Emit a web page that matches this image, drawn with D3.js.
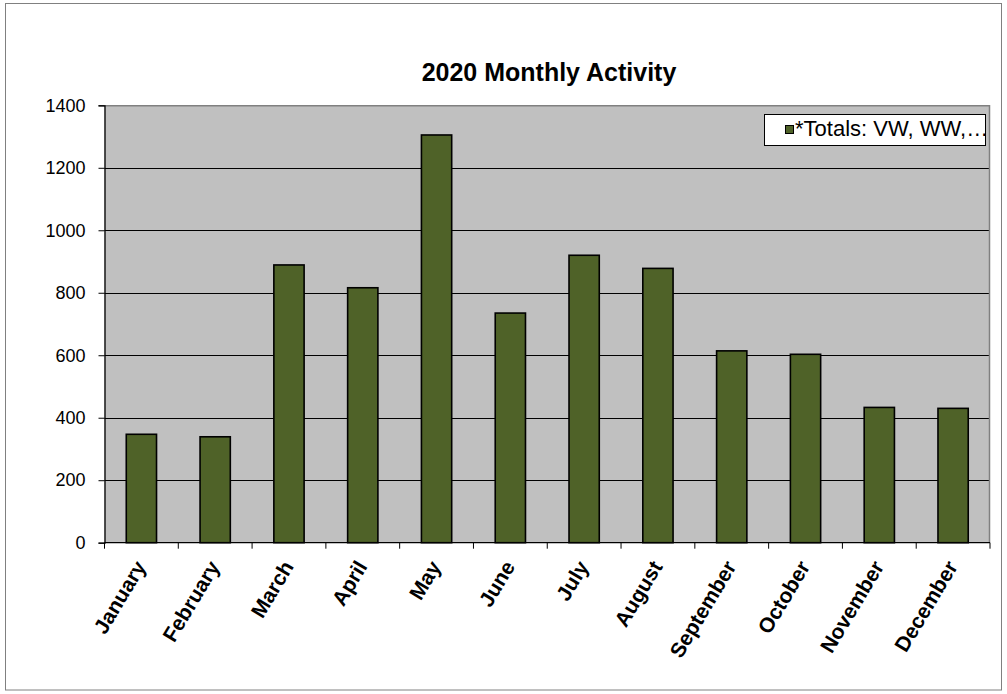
<!DOCTYPE html>
<html>
<head>
<meta charset="utf-8">
<script src="https://cdn.jsdelivr.net/npm/d3@7/dist/d3.min.js"></script>
<style>
  html, body { margin: 0; padding: 0; background: #fff; }
  svg { display: block; font-family: "Liberation Sans", Arial, sans-serif; }
</style>
</head>
<body>
<svg id="chart" width="1007" height="694"></svg>
<script>
// 2020 monthly activity totals
const months = ["January", "February", "March", "April", "May", "June",
                "July", "August", "September", "October", "November", "December"];
const totals = [347, 339, 889, 816, 1305, 735, 920, 878, 614, 603, 433, 430];
const yTicks = [0, 200, 400, 600, 800, 1000, 1200, 1400];
const seriesName = "*Totals: VW, WW,\u2026";
const chartTitle = "2020 Monthly Activity";

const svg = d3.select("#chart");
const plot = { left: 104.5, right: 990, top: 105.3, bottom: 542.7 };

// chart frame
svg.append("rect")
  .attr("x", 5.5).attr("y", 3.5)
  .attr("width", 996).attr("height", 686.5)
  .attr("fill", "#fff").attr("stroke", "#808080").attr("stroke-width", 1);

const x = d3.scaleBand().domain(months).range([plot.left, plot.right]).paddingInner(0.59).paddingOuter(0.295);
const xBand = d3.scaleBand().domain(months).range([plot.left, plot.right]);
const y = d3.scaleLinear().domain([0, 1400]).range([plot.bottom, plot.top]);

// plot background
svg.append("rect")
  .attr("x", plot.left).attr("y", plot.top)
  .attr("width", plot.right - plot.left).attr("height", plot.bottom - plot.top)
  .attr("fill", "#c0c0c0");

// gridlines
svg.append("g").selectAll("line").data(yTicks.filter(d => d > 0 && d < 1400)).join("line")
  .attr("x1", plot.left).attr("x2", plot.right)
  .attr("y1", d => Math.round(y(d)) + 0.5).attr("y2", d => Math.round(y(d)) + 0.5)
  .attr("stroke", "#000").attr("stroke-width", 1);

// top and right plot border
svg.append("path")
  .attr("d", `M${plot.left},${plot.top + 0.5}H${plot.right - 0.5}V${plot.bottom}`)
  .attr("fill", "none").attr("stroke", "#808080").attr("stroke-width", 1.5);

// bars
svg.append("g").selectAll("rect").data(totals).join("rect")
  .attr("x", (d, i) => x(months[i]))
  .attr("width", x.bandwidth())
  .attr("y", d => y(d))
  .attr("height", d => plot.bottom - y(d))
  .attr("fill", "#4f6228")
  .attr("stroke", "#000").attr("stroke-width", 1.6);

// y axis
const yAxis = d3.axisLeft(y).tickValues(yTicks).tickSize(6).tickPadding(13).tickFormat(d3.format("d"));
const gy = svg.append("g").attr("transform", `translate(${plot.left},0)`).call(yAxis);
gy.select(".domain").attr("stroke", "#000").attr("stroke-width", 1.3);
gy.selectAll(".tick line").attr("stroke", "#000");
gy.selectAll(".tick text").attr("font-size", 18).attr("font-family", "Liberation Sans, Arial, sans-serif").attr("fill", "#000");

// x axis: ticks at category boundaries
const gx = svg.append("g").attr("transform", `translate(0,${plot.bottom})`);
gx.append("line").attr("x1", plot.left).attr("x2", plot.right).attr("stroke", "#000").attr("stroke-width", 1.3);
const bounds = months.map(m => xBand(m)).concat([plot.right]);
gx.selectAll("line.tk").data(bounds).join("line").attr("class", "tk")
  .attr("x1", d => d).attr("x2", d => d).attr("y1", 0).attr("y2", 6)
  .attr("stroke", "#000");
gx.selectAll("text").data(months).join("text")
  .attr("transform", d => `translate(${xBand(d) + xBand.bandwidth() / 2 - 1},${20}) rotate(-59)`)
  .attr("text-anchor", "end")
  .attr("dy", "0.35em")
  .attr("font-size", 21).attr("font-weight", "bold")
  .attr("fill", "#000")
  .text(d => d);

// title
svg.append("text")
  .attr("x", 549).attr("y", 81)
  .attr("text-anchor", "middle")
  .attr("font-size", 25).attr("font-weight", "bold")
  .text(chartTitle);

// legend, clipped to the plot area
const clip = svg.append("clipPath").attr("id", "legclip");
clip.append("rect").attr("x", plot.left).attr("y", plot.top).attr("width", plot.right - plot.left - 1).attr("height", 100);
const leg = svg.append("g").attr("clip-path", "url(#legclip)");
leg.append("rect").attr("x", 764.5).attr("y", 114.5).attr("width", 221).attr("height", 31)
  .attr("fill", "#fff").attr("stroke", "#000");
leg.append("rect").attr("x", 785.5).attr("y", 125.5).attr("width", 8).attr("height", 8)
  .attr("fill", "#4f6228").attr("stroke", "#000");
leg.append("text").attr("x", 795).attr("y", 136)
  .attr("font-size", 22)
  .text(seriesName);
</script>
</body>
</html>
